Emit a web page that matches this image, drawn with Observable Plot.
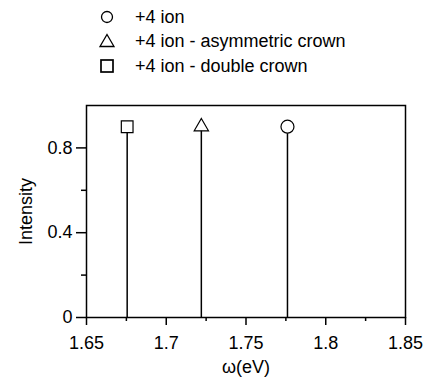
<!DOCTYPE html>
<html>
<head>
<meta charset="utf-8">
<script src="https://cdn.jsdelivr.net/npm/d3@7"></script>
<script src="https://cdn.jsdelivr.net/npm/@observablehq/plot@0.6"></script>
<style>
  html, body { margin: 0; padding: 0; background: #fff; }
  #wrap { position: relative; width: 427px; height: 383px; font-family: "Liberation Sans", Arial, Helvetica, sans-serif; }
  #legend { position: absolute; left: 0; top: 0; font-size: 18px; color: #000; }
  .row { position: absolute; left: 97px; height: 20px; display: flex; align-items: center; white-space: nowrap; }
  .row svg { width: 20px; height: 20px; margin-right: 18px; overflow: visible; }
</style>
</head>
<body>
<div id="wrap"><div id="legend"></div></div>
<script>
// Data
const series = ["+4 ion", "+4 ion - asymmetric crown", "+4 ion - double crown"];
const symbols = ["circle", "triangle", "square"];
const omega = [1.776, 1.722, 1.6755];
const intensity = [0.9, 0.9, 0.9];
const xTicks = [1.65, 1.7, 1.75, 1.8, 1.85];
const xTickLabels = ["1.65", "1.7", "1.75", "1.8", "1.85"];
const xMinor = [1.675, 1.725, 1.775, 1.825];
const yTicks = [0, 0.4, 0.8];
const yTickLabels = ["0", "0.4", "0.8"];
const yMinor = [0.2, 0.6];

const data = series.map((s, i) => ({series: s, symbol: symbols[i], x: omega[i], y: intensity[i]}));
const markerR = {circle: 6.5, triangle: 5.3, square: 6.6};

const fmt = (ticks, labels) => (d) => labels[ticks.findIndex(t => Math.abs(t - d) < 1e-9)] ?? "";

const plot = Plot.plot({
  width: 427,
  height: 383,
  marginLeft: 86,
  marginRight: 22,
  marginTop: 105,
  marginBottom: 66,
  style: {fontFamily: "'Liberation Sans', Arial, Helvetica, sans-serif", fontSize: "18px", color: "#000", background: "#fff"},
  x: {domain: [1.65, 1.85]},
  y: {domain: [0, 1]},
  marks: [
    Plot.frame({stroke: "#000", strokeWidth: 1.5}),
    Plot.axisX(xTicks, {tickSize: 8, tickPadding: 11, tickFormat: fmt(xTicks, xTickLabels), fontSize: 18, label: "ω(eV)", labelAnchor: "center", labelArrow: "none", labelOffset: 55, strokeWidth: 1.5}),
    Plot.axisX(xMinor, {tickSize: 4, tickFormat: () => "", label: null, strokeWidth: 1.5}),
    Plot.axisY(yTicks, {tickSize: 10, tickPadding: 4, tickFormat: fmt(yTicks, yTickLabels), fontSize: 18, label: "Intensity", labelAnchor: "center", labelArrow: "none", labelOffset: 67, strokeWidth: 1.5}),
    Plot.axisY(yMinor, {tickSize: 5, tickFormat: () => "", label: null, strokeWidth: 1.5}),
    Plot.ruleX(data, {x: "x", y1: 0, y2: "y", stroke: "#000", strokeWidth: 1.5}),
    ...symbols.map(sym => Plot.dot(data.filter(d => d.symbol === sym), {x: "x", y: "y", symbol: "symbol", r: markerR[sym], fill: "#fff", stroke: "#000", strokeWidth: 1.2}))
  ],
  symbol: {type: "identity"}
});
document.getElementById("wrap").appendChild(plot);
plot.style.position = "absolute"; plot.style.left = "0"; plot.style.top = "0";

// Legend (HTML)
const legend = document.getElementById("legend");
const legendTops = [7, 31, 56];
const shapes = {
  circle: '<circle cx="10" cy="10" r="5.5" fill="none" stroke="#000" stroke-width="1.3"/>',
  triangle: '<path d="M10,3.5 L17,15.5 L3,15.5 Z" fill="none" stroke="#000" stroke-width="1.3"/>',
  square: '<rect x="4" y="4" width="12" height="12" fill="none" stroke="#000" stroke-width="1.7"/>'
};
series.forEach((s, i) => {
  const row = document.createElement("div");
  row.className = "row";
  row.style.top = legendTops[i] + "px";
  row.innerHTML = `<svg viewBox="0 0 20 20">${shapes[symbols[i]]}</svg><span>${s}</span>`;
  legend.appendChild(row);
});
document.getElementById("wrap").appendChild(legend);
</script>
</body>
</html>
